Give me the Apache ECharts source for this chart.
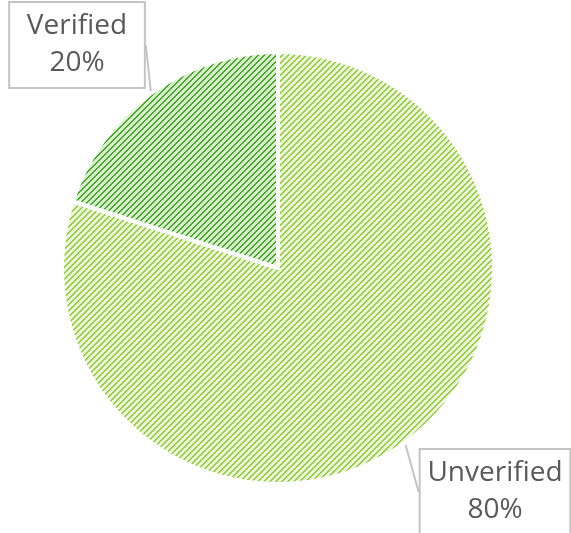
<!DOCTYPE html>
<html>
<head>
<meta charset="utf-8">
<script src="https://cdn.jsdelivr.net/npm/echarts@6/dist/echarts.min.js"></script>
<style>
  html, body { margin: 0; padding: 0; background: #fff; }
  #chart { width: 571px; height: 533px; }
</style>
</head>
<body>
<div id="chart"></div>
<script>
// data
var categories = ['Unverified', 'Verified'];
var values = [80, 20];

// hatch tiles, "/" stripes
function hatch(bg, fg) {
    var n = 6;
    var c = document.createElement('canvas');
    c.width = n;
    c.height = n;
    var ctx = c.getContext('2d');
    ctx.fillStyle = bg;
    ctx.fillRect(0, 0, n, n);
    ctx.fillStyle = fg;
    for (var x = 0; x < n; x++) {
        for (var y = 0; y < n; y++) {
            if ((x + y) % n < 2) ctx.fillRect(x, y, 1, 1);
        }
    }
    return { image: c, repeat: 'repeat' };
}

var fills = [
    hatch('#eaf5d8', '#92cd3e'),
    hatch('#d6eec9', '#46a62c')
];

var chart = echarts.init(document.getElementById('chart'));
var option = {
    animation: false,
    series: [{
        type: 'pie',
        center: [278, 268],
        radius: 216,
        startAngle: 90,
        clockwise: true,
        itemStyle: {
            borderColor: '#ffffff',
            borderWidth: 4
        },
        label: {
            show: true,
            formatter: '{b}\n{d}%',
            fontFamily: 'Open Sans',
            fontSize: 28,
            lineHeight: 37,
            color: '#595959',
            align: 'center',
            overflow: 'none',
            backgroundColor: '#ffffff',
            borderColor: '#c4c4c4',
            borderWidth: 2,
            padding: [5, 16, 5, 16]
        },
        labelLine: {
            show: true,
            length: 4,
            length2: 0,
            lineStyle: { color: '#c4c4c4', width: 2 }
        },
        labelLayout: function (p) {
            if (p.dataIndex === 1) {
                return { x: 77, y: 45, align: 'center', verticalAlign: 'middle' };
            }
            return { x: 495, y: 450, align: 'center', verticalAlign: 'top' };
        },
        emphasis: { disabled: true },
        data: categories.map(function (name, i) {
            return { name: name, value: values[i], itemStyle: { color: fills[i] } };
        })
    }]
};
chart.setOption(option);
</script>
</body>
</html>
